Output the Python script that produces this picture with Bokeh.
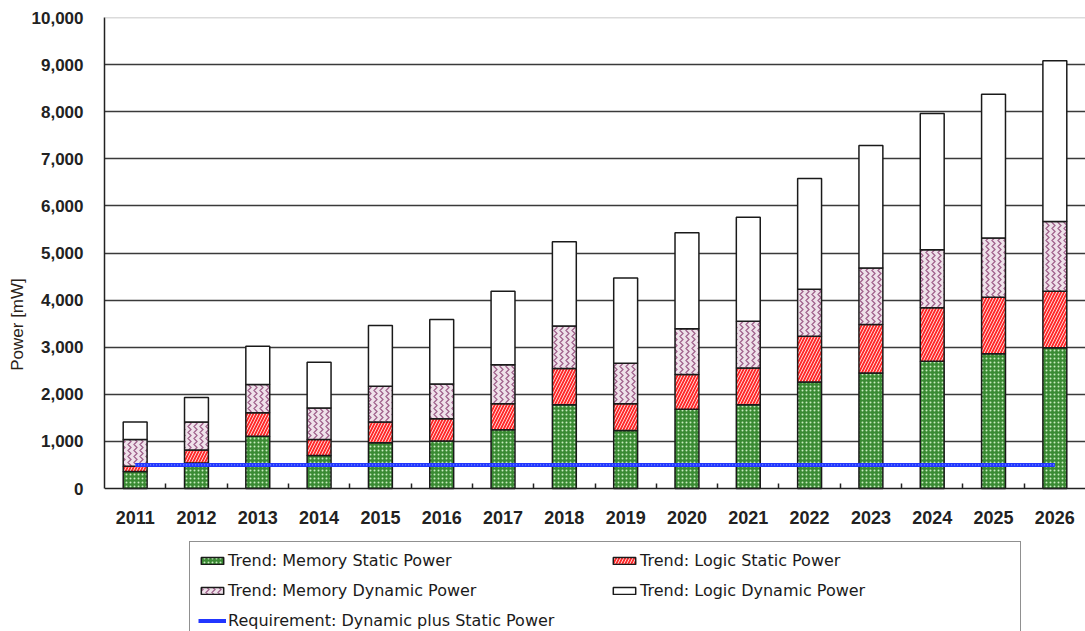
import numpy as np
from bokeh.plotting import figure
from bokeh.models import (Range1d, FixedTicker, Legend, LegendItem, Span,
                          NumeralTickFormatter)
from bokeh.embed import file_html
from bokeh.resources import INLINE

# ---------------- data (mW) ----------------
years = ["2011", "2012", "2013", "2014", "2015", "2016", "2017", "2018",
         "2019", "2020", "2021", "2022", "2023", "2024", "2025", "2026"]
memory_static = [360, 540, 1110, 700, 970, 1010, 1250, 1780,
                 1230, 1680, 1780, 2260, 2450, 2700, 2860, 2990]
logic_static = [110, 280, 500, 340, 440, 470, 550, 770,
                570, 740, 780, 970, 1030, 1140, 1200, 1200]
memory_dynamic = [570, 590, 600, 670, 760, 740, 830, 900,
                  860, 970, 990, 1000, 1200, 1230, 1260, 1480]
logic_dynamic = [370, 520, 810, 970, 1290, 1370, 1560, 1790,
                 1810, 2040, 2210, 2350, 2600, 2890, 3050, 3410]
requirement = [500, 500, 500, 500, 500, 500, 500, 500,
               500, 500, 500, 500, 500, 500, 500, 500]
y_ticks = [0, 1000, 2000, 3000, 4000, 5000, 6000, 7000, 8000, 9000, 10000]

series_names = ["Trend: Memory Static Power", "Trend: Logic Static Power",
                "Trend: Memory Dynamic Power", "Trend: Logic Dynamic Power"]
req_name = "Requirement: Dynamic plus Static Power"

n = len(years)
xc = np.arange(n) + 0.5

W, H = 1085, 631
TOP = 17           # space above the value axis maximum
AXIS_PX = 471      # pixel height of 0..10000
frame_h = H - TOP
y_max = y_ticks[-1]
y_min = -y_max * (frame_h - AXIS_PX) / AXIS_PX   # room below 0 for labels + legend

p = figure(width=W, height=H, output_backend="svg", toolbar_location=None,
           x_range=Range1d(0, n), y_range=Range1d(y_min, y_max),
           min_border_left=104, min_border_top=TOP, min_border_right=0,
           min_border_bottom=0,
           background_fill_color="white", border_fill_color="white")
p.outline_line_color = None

# grid
p.xgrid.visible = False
p.ygrid.ticker = FixedTicker(ticks=y_ticks[1:-1])
p.ygrid.grid_line_color = "#3a3a3a"
p.ygrid.grid_line_width = 1.3
p.add_layout(Span(location=y_ticks[-1], dimension="width",
                  line_color="#b8b8b8", line_width=1.5))

# stacked bars
stack = [memory_static, logic_static, memory_dynamic, logic_dynamic]
styles = [
    dict(fill_color="#3a8a33", hatch_pattern="dot", hatch_color="#c8ecc0",
         hatch_scale=4, hatch_weight=1.2),
    dict(fill_color="#ff2a2a", hatch_pattern="right_diagonal_line",
         hatch_color="#ffe6e6", hatch_scale=6, hatch_weight=0.9),
    dict(fill_color="#efe2ea", hatch_pattern="vertical_wave",
         hatch_color="#a0628c", hatch_scale=6, hatch_weight=1.3),
    dict(fill_color="white"),
]
bottom = np.zeros(n)
bar_renderers = []
for vals, st in zip(stack, styles):
    top = bottom + np.array(vals)
    r = p.vbar(x=xc, bottom=bottom, top=top, width=0.39,
               line_color="#1a1a1a", line_width=1.5, **st)
    bar_renderers.append(r)
    bottom = top

# requirement line
req = p.line(xc, requirement, line_color="#2236ff", line_width=4)
p.line(xc, requirement, line_color="#7f9cff", line_width=1.2, line_dash="1 2")

# axes
p.yaxis.bounds = (0, y_max)
p.yaxis.ticker = FixedTicker(ticks=y_ticks)
p.yaxis.formatter = NumeralTickFormatter(format="0,0")
p.yaxis.major_label_text_font = "Liberation Sans"
p.yaxis.major_label_text_font_style = "bold"
p.yaxis.major_label_text_font_size = "17px"
p.yaxis.major_label_text_color = "#222222"
p.yaxis.major_tick_in = 0
p.yaxis.major_tick_out = 0
p.yaxis.minor_tick_line_color = None
p.yaxis.major_label_standoff = 21
p.yaxis.axis_line_color = "#222222"
p.yaxis.axis_line_width = 1.5
p.yaxis.axis_label = "Power [mW]"
p.yaxis.axis_label_text_font = "Liberation Sans"
p.yaxis.axis_label_text_font_style = "normal"
p.yaxis.axis_label_text_font_size = "17px"
p.yaxis.axis_label_text_color = "#2a2218"
p.yaxis.axis_label_standoff = 2

p.xaxis.fixed_location = 0
p.xaxis.ticker = FixedTicker(ticks=list(xc), minor_ticks=list(range(1, n)))
p.xaxis.major_label_overrides = {float(x): y for x, y in zip(xc, years)}
p.xaxis.major_label_text_font = "Liberation Sans"
p.xaxis.major_label_text_font_style = "bold"
p.xaxis.major_label_text_font_size = "18px"
p.xaxis.major_label_text_color = "#222222"
p.xaxis.major_tick_in = 0
p.xaxis.major_tick_out = 0
p.xaxis.minor_tick_in = 5
p.xaxis.minor_tick_out = 0
p.xaxis.minor_tick_line_color = "#222222"
p.xaxis.minor_tick_line_width = 1.5
p.xaxis.major_label_standoff = 22
p.xaxis.axis_line_color = "#222222"
p.xaxis.axis_line_width = 1.5

# legend (inside the frame, below the value 0; bottom edge runs off the page
# as in the reference)
items = [LegendItem(label=series_names[0], renderers=[bar_renderers[0]]),
         LegendItem(label=series_names[1], renderers=[bar_renderers[1]]),
         LegendItem(label=series_names[2], renderers=[bar_renderers[2]]),
         LegendItem(label=series_names[3], renderers=[bar_renderers[3]]),
         LegendItem(label=req_name, renderers=[req])]
legend = Legend(items=items, orientation="horizontal", ncols=2,
                location=(85, -8), border_line_color="#222222",
                border_line_width=1.2, background_fill_color="white",
                background_fill_alpha=1.0, padding=8, spacing=10, margin=0,
                glyph_width=28, glyph_height=9, label_height=20,
                label_width=372, label_standoff=2,
                label_text_font="DejaVu Sans", label_text_font_size="16px",
                label_text_color="#1a1a1a")
p.add_layout(legend)

open("out.html", "w").write(file_html(p, INLINE))
